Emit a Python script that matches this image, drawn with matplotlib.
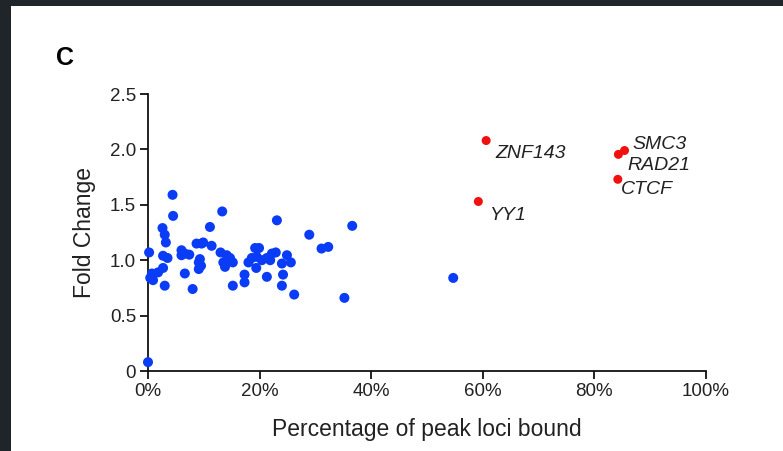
import matplotlib
matplotlib.use("Agg")
import matplotlib.pyplot as plt
from matplotlib.patches import Rectangle

plt.rcParams['font.family'] = ['Liberation Sans', 'DejaVu Sans']

# Blue points: percentage of peak loci bound (%) and fold change
blue_x = [4.4, 4.5, 2.6, 3.0, 3.2, 0.2, 2.7, 3.5, 0.7, 0.9, 1.8, 2.7, 0.4, 3.0,
          6.0, 6.6, 7.4, 6.0, 6.6, 8.0, 8.7, 9.6, 9.9, 11.4, 11.1,
          9.3, 9.1, 9.5, 9.1, 13.3, 13.0, 14.1, 14.7, 13.5, 13.8, 15.2,
          15.2, 17.3, 17.3, 18.0, 18.6, 19.2, 19.9, 19.5, 19.4, 20.4, 21.3,
          21.9, 21.3, 22.2, 22.9, 24.0, 24.2, 24.0, 24.9, 25.6, 26.2,
          23.1, 28.9, 31.1, 32.3, 35.2, 36.6, 0.0, 54.7]
blue_y = [1.59, 1.40, 1.29, 1.23, 1.16, 1.07, 1.04, 1.02, 0.88, 0.82, 0.89, 0.93, 0.84, 0.77,
          1.09, 1.06, 1.05, 1.045, 0.88, 0.74, 1.15, 1.15, 1.16, 1.13, 1.30,
          1.01, 0.98, 0.95, 0.92, 1.44, 1.07, 1.045, 1.02, 0.98, 0.94, 0.98,
          0.77, 0.87, 0.80, 0.98, 1.02, 1.11, 1.11, 1.03, 0.93, 1.00, 1.02,
          1.00, 0.85, 1.06, 1.07, 0.97, 0.87, 0.77, 1.045, 0.98, 0.69,
          1.36, 1.23, 1.105, 1.12, 0.66, 1.31, 0.08, 0.84]

# Highlighted factors
red_names = ["ZNF143", "YY1", "SMC3", "RAD21", "CTCF"]
red_x = [60.6, 59.2, 85.4, 84.3, 84.2]
red_y = [2.08, 1.53, 1.99, 1.955, 1.73]

x_ticks = [0, 20, 40, 60, 80, 100]
x_ticklabels = ["0%", "20%", "40%", "60%", "80%", "100%"]
y_ticks = [0, 0.5, 1.0, 1.5, 2.0, 2.5]
y_ticklabels = ["0", "0.5", "1.0", "1.5", "2.0", "2.5"]

label_offsets = {"ZNF143": (9, -13), "YY1": (11.5, -14.5), "SMC3": (7.5, 6.5),
                 "RAD21": (9, -11.5), "CTCF": (3, -10.5)}

fig = plt.figure(figsize=(7.83, 4.51), dpi=100)
fig.patch.set_facecolor("white")
fig.patches.append(Rectangle((0, 0), 11 / 783, 1, transform=fig.transFigure,
                             facecolor="#1f2528", edgecolor="none", zorder=0))
fig.patches.append(Rectangle((0, 1 - 6 / 451), 1, 6 / 451, transform=fig.transFigure,
                             facecolor="#1f2528", edgecolor="none", zorder=0))

ax = fig.add_axes([148 / 783, 1 - 371 / 451, (706 - 148) / 783, (371 - 94) / 451])
ax.scatter(blue_x, blue_y, s=52, color="#0a3cf5", edgecolors="none", zorder=3, clip_on=False)
ax.scatter(red_x, red_y, s=42, color="#f01010", edgecolors="none", zorder=3, clip_on=False)
for name, x, y in zip(red_names, red_x, red_y):
    ax.annotate(name, (x, y), xytext=label_offsets[name], textcoords="offset pixels",
                ha="left", va="center", fontsize=14, fontstyle="italic", color="#222222")

ax.set_xlim(0, 100)
ax.set_ylim(0, 2.5)
ax.set_xticks(x_ticks)
ax.set_xticklabels(x_ticklabels)
ax.set_yticks(y_ticks)
ax.set_yticklabels(y_ticklabels)
for s in ["top", "right"]:
    ax.spines[s].set_visible(False)
for s in ["left", "bottom"]:
    ax.spines[s].set_linewidth(1.3)
    ax.spines[s].set_color("#111111")
ax.tick_params(direction="out", length=6, width=1.3, labelsize=13.5, colors="#111111",
               labelcolor="#222222", pad=2.5)
ax.set_xlabel("Percentage of peak loci bound", fontsize=16.5, color="#222222", labelpad=13)
ax.set_ylabel("Fold Change", fontsize=16.5, color="#222222", labelpad=10)
fig.text(56 / 783, 1 - 58 / 451, "C", fontsize=18, fontweight="bold", ha="left", va="center")

fig.savefig("out.png", dpi=100, facecolor="white")
